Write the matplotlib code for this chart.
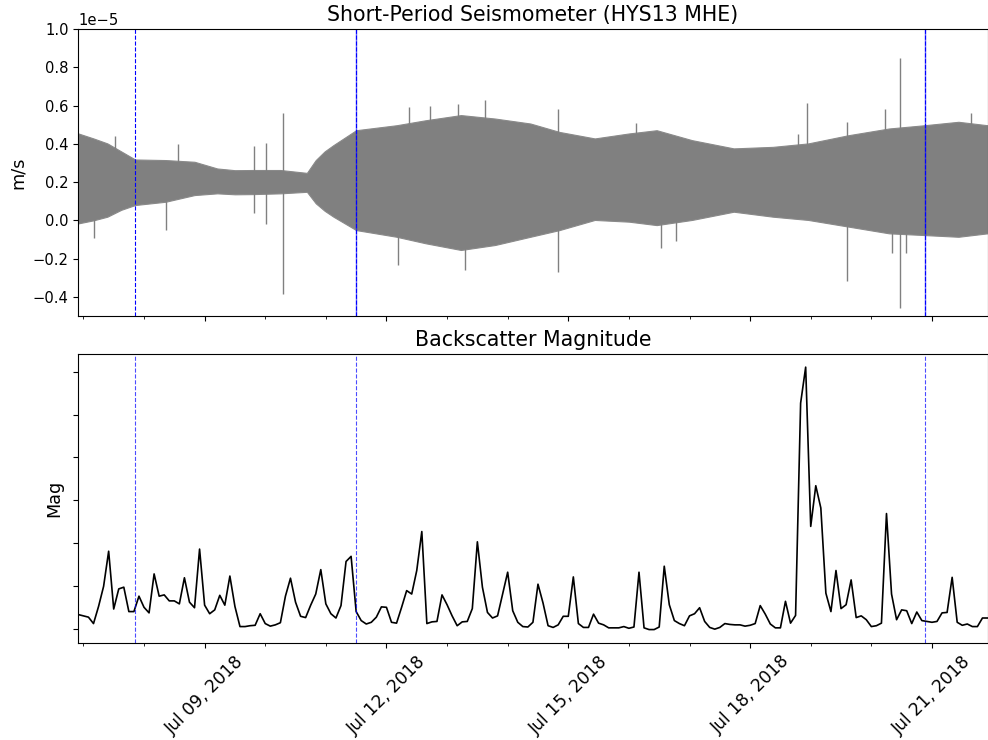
import matplotlib
matplotlib.use('Agg')
import matplotlib.pyplot as plt
import matplotlib.dates as mdates
import numpy as np
import pandas as pd

# backscatter magnitude, one sample every 2 hours
mag_start = '2018-07-06 22:00'
mag = [0.33, 0.30, 0.27, 0.12, 0.52, 0.99, 1.81, 0.46, 0.93, 0.97,
       0.40, 0.40, 0.76, 0.50, 0.37, 1.28, 0.76, 0.79, 0.65, 0.65,
       0.58, 1.19, 0.62, 0.49, 1.86, 0.55, 0.35, 0.44, 0.78, 0.55,
       1.23, 0.52, 0.05, 0.05, 0.07, 0.08, 0.35, 0.12, 0.06, 0.09,
       0.14, 0.76, 1.18, 0.62, 0.29, 0.26, 0.55, 0.81, 1.38, 0.58,
       0.35, 0.25, 0.54, 1.57, 1.69, 0.40, 0.19, 0.11, 0.15, 0.27,
       0.51, 0.50, 0.15, 0.13, 0.50, 0.89, 0.81, 1.36, 2.27, 0.12,
       0.16, 0.17, 0.79, 0.56, 0.30, 0.07, 0.16, 0.17, 0.47, 2.03,
       0.97, 0.38, 0.25, 0.30, 0.81, 1.32, 0.42, 0.15, 0.05, 0.04,
       0.15, 1.04, 0.60, 0.07, 0.03, 0.09, 0.29, 0.29, 1.21, 0.12,
       0.03, 0.03, 0.34, 0.13, 0.09, 0.02, 0.02, 0.02, 0.05, 0.01,
       0.04, 1.32, 0.02, -0.02, -0.02, 0.04, 1.46, 0.56, 0.19, 0.12,
       0.07, 0.30, 0.35, 0.49, 0.17, 0.03, -0.01, 0.03, 0.12, 0.10,
       0.09, 0.09, 0.06, 0.08, 0.12, 0.54, 0.34, 0.11, 0.02, 0.02,
       0.64, 0.13, 0.31, 5.27, 6.11, 2.39, 3.34, 2.82, 0.83, 0.40,
       1.36, 0.47, 0.56, 1.14, 0.26, 0.30, 0.21, 0.05, 0.07, 0.13,
       2.69, 0.81, 0.21, 0.44, 0.42, 0.12, 0.39, 0.19, 0.17, 0.15,
       0.17, 0.37, 0.38, 1.20, 0.15, 0.08, 0.11, 0.05, 0.05, 0.25,
       0.25]

# seismometer trace envelope, m/s in units of 1e-5
env_times = ['2018-07-06 22:00', '2018-07-07 04:00', '2018-07-07 09:30',
             '2018-07-07 15:00', '2018-07-07 20:30', '2018-07-08 08:30',
             '2018-07-08 20:00', '2018-07-09 05:00', '2018-07-09 12:00',
             '2018-07-09 19:00', '2018-07-10 06:00', '2018-07-10 16:30',
             '2018-07-10 20:00', '2018-07-10 23:30', '2018-07-11 03:00',
             '2018-07-11 12:00', '2018-07-12 04:00', '2018-07-12 15:30',
             '2018-07-13 05:30', '2018-07-13 19:00', '2018-07-14 09:00',
             '2018-07-14 20:30', '2018-07-15 10:30', '2018-07-16 00:00',
             '2018-07-16 11:00', '2018-07-17 01:00', '2018-07-17 17:30',
             '2018-07-18 09:00', '2018-07-18 23:00', '2018-07-19 15:00',
             '2018-07-20 07:00', '2018-07-20 21:00', '2018-07-21 10:30',
             '2018-07-21 22:00']
env_upper = [0.454, 0.428, 0.402, 0.360, 0.318, 0.315, 0.306, 0.271, 0.262, 0.263,
             0.263, 0.248, 0.315, 0.360, 0.393, 0.471, 0.497, 0.523, 0.550, 0.532,
             0.506, 0.462, 0.428, 0.454, 0.471, 0.419, 0.376, 0.384, 0.402, 0.445,
             0.480, 0.497, 0.515, 0.497]
env_lower = [-0.016, 0.000, 0.019, 0.055, 0.080, 0.097, 0.132, 0.141, 0.136, 0.137,
             0.141, 0.149, 0.089, 0.050, 0.019, -0.051, -0.086, -0.120, -0.155, -0.129,
             -0.086, -0.051, 0.002, -0.007, -0.025, 0.002, 0.045, 0.019, 0.002, -0.033,
             -0.068, -0.077, -0.086, -0.068]

# isolated spikes standing out of the trace
spike_times = ['2018-07-07 04:00', '2018-07-07 12:40', '2018-07-08 08:40',
               '2018-07-08 13:25', '2018-07-09 19:40', '2018-07-10 00:10',
               '2018-07-10 06:55', '2018-07-12 04:40', '2018-07-12 08:50',
               '2018-07-12 17:10', '2018-07-13 04:15', '2018-07-13 07:15',
               '2018-07-13 14:55', '2018-07-14 19:55', '2018-07-16 02:40',
               '2018-07-16 12:45', '2018-07-16 18:50', '2018-07-18 19:00',
               '2018-07-18 22:30', '2018-07-19 14:20', '2018-07-20 05:25',
               '2018-07-20 08:05', '2018-07-20 11:15', '2018-07-20 13:40',
               '2018-07-21 15:30']
spike_top = [0.20, 0.44, 0.20, 0.40, 0.39, 0.405, 0.56, 0.20, 0.59, 0.60, 0.61,
             0.20, 0.63, 0.58, 0.51, 0.20, 0.20, 0.45, 0.614, 0.515, 0.58,
             0.20, 0.85, 0.20, 0.56]
spike_bottom = [-0.09, 0.20, -0.05, 0.20, 0.04, -0.02, -0.386, -0.233, 0.20, 0.20, 0.20,
                -0.26, 0.20, -0.27, 0.20, -0.146, -0.11, 0.20, 0.20, -0.317, 0.20,
                -0.17, -0.46, -0.17, 0.20]

event_times = ['2018-07-07 20:30', '2018-07-11 12:00', '2018-07-20 21:15']

mag_t = pd.date_range(mag_start, periods=len(mag), freq='2h')
env_t = pd.to_datetime(env_times)
spk_t = pd.to_datetime(spike_times)
evt_t = pd.to_datetime(event_times)

fig = plt.figure(figsize=(9.88, 7.4), dpi=100)
ax1 = fig.add_axes([0.0793, 0.573, 0.9202, 0.3878])
ax2 = fig.add_axes([0.0793, 0.1315, 0.9202, 0.3901], sharex=ax1)

# top: seismometer trace
ax1.fill_between(env_t, np.array(env_lower) * 1e-5, np.array(env_upper) * 1e-5,
                 color='gray', lw=0.8, edgecolor='#8a8a8a')
ax1.vlines(spk_t, np.array(spike_bottom) * 1e-5, np.array(spike_top) * 1e-5,
           color='gray', lw=1)
ax1.set_ylim(-0.5e-5, 1.0e-5)
ax1.set_yticks(np.arange(-0.4, 1.01, 0.2) * 1e-5)
ax1.set_ylabel('m/s', fontsize=12.7)
ax1.set_title('Short-Period Seismometer (HYS13 MHE)', fontsize=14.8)
ax1.tick_params(labelsize=10.6, labelbottom=False)
ax1.yaxis.get_offset_text().set_fontsize(10.6)

# bottom: backscatter magnitude
ax2.plot(mag_t, mag, color='k', lw=1.2)
ax2.set_yticks(np.arange(0, 7, 1))
ax2.set_yticklabels([])
ax2.set_ylabel('Mag', fontsize=12.7)
ax2.set_title('Backscatter Magnitude', fontsize=14.8)
ax2.tick_params(labelsize=12.3)

for i, t in enumerate(evt_t):
    if i > 0:
        ax1.axvline(t, color='b', ls='-', lw=1.0, alpha=0.6)
    ax1.axvline(t, color='b', ls='--', lw=0.8)
    ax2.axvline(t, color='b', ls='--', lw=0.8, alpha=0.7)

ax2.set_xlim(mag_t[0], mag_t[-1])
ax2.xaxis.set_major_locator(mdates.DayLocator(interval=3))
ax2.xaxis.set_minor_locator(mdates.DayLocator())
ax2.xaxis.set_major_formatter(mdates.DateFormatter('%b %d, %Y'))
plt.setp(ax2.get_xticklabels(), rotation=45)

fig.savefig('out.png', dpi=100)
